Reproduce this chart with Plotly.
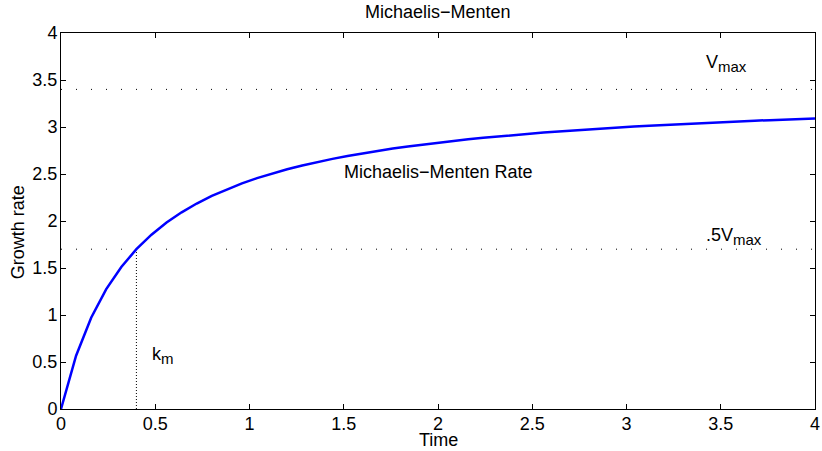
import plotly.graph_objects as go

# Michaelis-Menten growth rate sampled over time
time = [round(0.08 * i, 2) for i in range(51)]
rate = [0, 0.5667, 0.9714, 1.275, 1.5111, 1.7, 1.8545, 1.9833, 2.0923, 2.1857,
        2.2667, 2.3375, 2.4, 2.4556, 2.5053, 2.55, 2.5905, 2.6273, 2.6609, 2.6917,
        2.72, 2.7462, 2.7704, 2.7929, 2.8138, 2.8333, 2.8516, 2.8688, 2.8848, 2.9,
        2.9143, 2.9278, 2.9405, 2.9526, 2.9641, 2.975, 2.9854, 2.9952, 3.0047, 3.0136,
        3.0222, 3.0304, 3.0383, 3.0458, 3.0531, 3.06, 3.0667, 3.0731, 3.0792, 3.0852,
        3.0909]

v_max = 3.4
k_m = 0.4
half_v = v_max / 2
x_range = [0, 4]
y_range = [0, 4]
tick_vals = [0, 0.5, 1, 1.5, 2, 2.5, 3, 3.5, 4]
tick_text = ["0", "0.5", "1", "1.5", "2", "2.5", "3", "3.5", "4"]

font = "Liberation Sans, Arial, sans-serif"
fs = 18


def sub(s):
    return "<sub><span style='font-size:15px'>" + s + "</span></sub>"


fig = go.Figure()

# reference lines: Vmax, Vmax/2 and km
dot = dict(color="black", width=1, dash="1px,14px")
fig.add_trace(go.Scatter(x=x_range, y=[v_max, v_max], mode="lines", line=dot,
                         hoverinfo="skip", showlegend=False))
fig.add_trace(go.Scatter(x=x_range, y=[half_v, half_v], mode="lines", line=dot,
                         hoverinfo="skip", showlegend=False))
fig.add_trace(go.Scatter(x=[k_m, k_m], y=[0, half_v], mode="lines",
                         line=dict(color="black", width=1, dash="1px,2px"),
                         hoverinfo="skip", showlegend=False))

fig.add_trace(go.Scatter(x=time, y=rate, mode="lines",
                         line=dict(color="#0000ff", width=2.5),
                         showlegend=False))

axis_common = dict(
    showgrid=False, zeroline=False, showline=True, linecolor="black", linewidth=1,
    mirror="allticks", ticks="inside", ticklen=5, tickcolor="black",
    tickvals=tick_vals, ticktext=tick_text, ticklabeloverflow="allow",
    tickfont=dict(family=font, size=fs, color="black"),
)
fig.update_xaxes(range=x_range, ticklabelstandoff=-2, **axis_common)
fig.update_yaxes(range=y_range, ticklabelstandoff=-1, **axis_common)

text_font = dict(family=font, size=fs, color="black")
fig.add_annotation(x=1.49, y=2.52, text="Michaelis\u2212Menten Rate", showarrow=False,
                   xanchor="left", yanchor="middle", font=text_font)
fig.add_annotation(x=3.41, y=3.68, text="V" + sub("max"), showarrow=False,
                   xanchor="left", yanchor="middle", font=text_font)
fig.add_annotation(x=3.41, y=1.84, text=".5V" + sub("max"), showarrow=False,
                   xanchor="left", yanchor="middle", font=text_font)
fig.add_annotation(x=0.47, y=0.57, text="k" + sub("m"), showarrow=False,
                   xanchor="left", yanchor="middle", font=text_font)

# title and axis labels
fig.add_annotation(xref="paper", yref="paper", x=0.5, y=1, yshift=21,
                   text="Michaelis\u2212Menten", showarrow=False, yanchor="middle",
                   font=text_font)
fig.add_annotation(xref="paper", yref="paper", x=0.5, y=0, yshift=-31,
                   text="Time", showarrow=False, yanchor="middle",
                   font=text_font)
fig.add_annotation(xref="paper", yref="paper", x=0, xshift=-43, y=0.47,
                   text="Growth rate", showarrow=False, textangle=-90,
                   xanchor="center", yanchor="middle",
                   font=text_font)

fig.update_layout(
    width=822, height=451,
    margin=dict(l=61, r=2, t=33, b=42),
    paper_bgcolor="white", plot_bgcolor="white",
)

fig.write_html("out.html")
